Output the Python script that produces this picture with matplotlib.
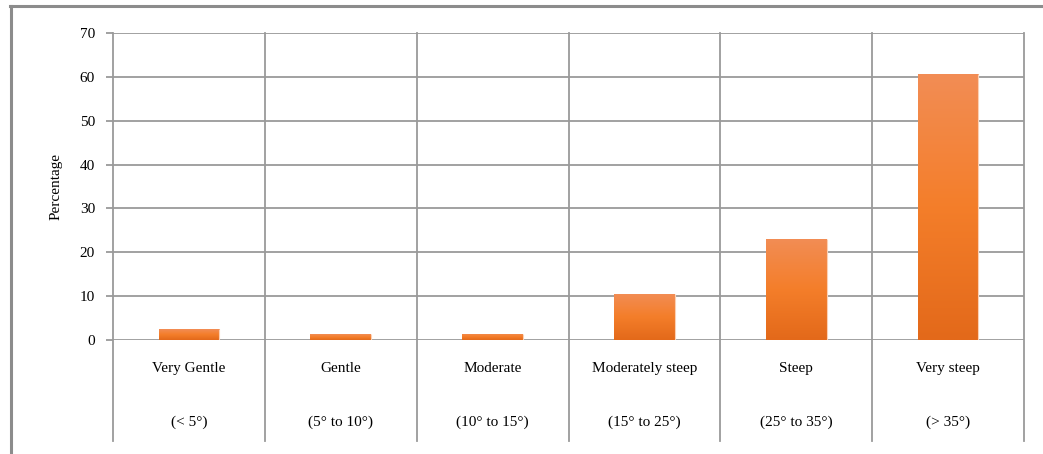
import matplotlib
matplotlib.use('Agg')
import matplotlib.pyplot as plt
import matplotlib.lines as mlines
import matplotlib.transforms as mtransforms
import numpy as np

# Slope classes and share of area in each (%)
classes = ['Very Gentle', 'Gentle', 'Moderate', 'Moderately steep', 'Steep', 'Very steep']
ranges = ['(< 5\u00b0)', '(5\u00b0 to 10\u00b0)', '(10\u00b0 to 15\u00b0)',
          '(15\u00b0 to 25\u00b0)', '(25\u00b0 to 35\u00b0)', '(> 35\u00b0)']
percent = [2.4, 1.35, 1.4, 10.6, 23.1, 60.7]
yticks = [0, 10, 20, 30, 40, 50, 60, 70]

plt.rcParams['font.family'] = ['Liberation Serif', 'DejaVu Serif']
plt.rcParams['font.size'] = 11

gridColor = '#9a9a9a'

figure = plt.figure(figsize=(10.43, 4.54), dpi=100)
axes = figure.add_axes([113 / 1043, 1 - 340 / 454, 911 / 1043, 307 / 454])

x = np.arange(len(classes)) + 0.5
bars = axes.bar(x, percent, width=0.4, color='#f47e2a', zorder=3,
                edgecolor='none')

# Vertical orange gradient, lighter at the top of each bar
gradient = np.linspace(0, 1, 256).reshape(-1, 1)
cmap = matplotlib.colors.LinearSegmentedColormap.from_list(
   'bar', ['#e3691a', '#f47e2a', '#f28d55'])
for bar in bars:
   x0, y0 = bar.get_x(), bar.get_y()
   w, h = bar.get_width(), bar.get_height()
   im = axes.imshow(gradient, extent=[x0, x0 + w, y0, y0 + h], origin='lower',
                    cmap=cmap, aspect='auto', zorder=4)
   im.set_clip_path(bar)
   axes.plot([x0 + w, x0 + w], [y0, y0 + h], color='#fbd0b4', linewidth=0.8,
             zorder=5, solid_capstyle='butt')

axes.set_xlim(0, len(classes))
axes.set_ylim(0, 70)
axes.set_yticks(yticks)
axes.set_xticks([])
axes.yaxis.grid(True, color=gridColor, linewidth=1.3, zorder=1)
axes.set_axisbelow(True)
for side in ['top', 'right', 'bottom', 'left']:
   axes.spines[side].set_visible(False)
axes.tick_params(axis='y', length=5, width=1.3, color=gridColor, pad=8,
                 labelsize=11)
axes.set_ylabel('Percentage', fontsize=11, labelpad=12)

# Category separators extend down through the label area
for boundary in range(len(classes) + 1):
   axes.axvline(boundary, ymin=-0.33, ymax=1.0, color=gridColor,
                linewidth=1.3, clip_on=False, zorder=2)

# Two-row category labels below the axis
blend = mtransforms.blended_transform_factory(axes.transData, axes.transAxes)
for xi, name, rng in zip(x, classes, ranges):
   axes.text(xi, -0.094, name, transform=blend, ha='center', va='center',
             fontsize=11)
   axes.text(xi, -0.267, rng, transform=blend, ha='center', va='center',
             fontsize=11)

# Outer frame (left and top edges)
figure.add_artist(mlines.Line2D([11 / 1043, 11 / 1043], [0, 1 - 5.5 / 454],
                                color='#8c8c8c', linewidth=2.2))
figure.add_artist(mlines.Line2D([10 / 1043, 1], [1 - 5.5 / 454, 1 - 5.5 / 454],
                                color='#8c8c8c', linewidth=2.2))

figure.savefig('out.png', dpi=100)
